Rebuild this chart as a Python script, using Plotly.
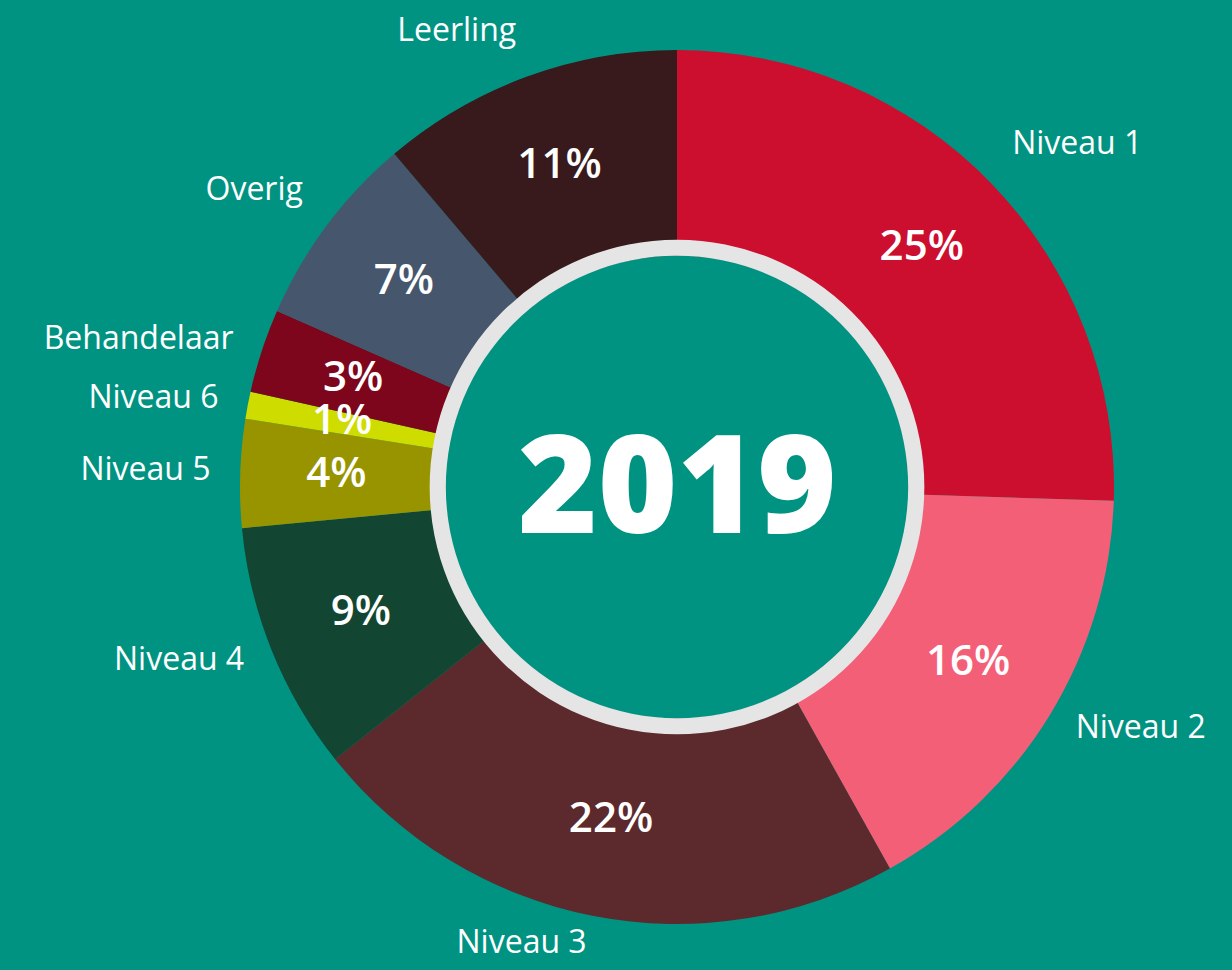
import numpy as np
import plotly.graph_objects as go

# ---------------- data ----------------
categories = ["Niveau 1", "Niveau 2", "Niveau 3", "Niveau 4", "Niveau 5",
              "Niveau 6", "Behandelaar", "Overig", "Leerling"]
shares = [25.5, 16.4, 22.4, 9.2, 4.0, 1.0, 3.1, 7.2, 11.2]
pct_labels = ["25%", "16%", "22%", "9%", "4%", "1%", "3%", "7%", "11%"]
center_label = "2019"

# ---------------- style ----------------
BG = "#009382"
RING = "#E5E5E5"
slice_colors = ["#CC0F2F", "#F45F78", "#5C2A2D", "#134632", "#989400",
                "#CFDC00", "#7D061D", "#46566C", "#381A1C"]
label_textpos = ["top right", "middle right", "middle left", "middle left",
                 "middle left", "middle left", "middle left", "top left", "top left"]
FONT = "Open Sans"

W, H = 1232, 970
CX, CY = 677, 487          # donut centre in px (from top-left)
R_OUT = 437                # outer radius px
R_MAX = 1.1                # radial axis max (outer ring = 1)
HOLE = 0.53                # inner edge of slices (under the grey ring)
RING_IN, RING_OUT = 0.529, 0.566
R_PCT = 0.78
R_LAB = 1.068

# ---------------- geometry from data ----------------
vals = np.array(shares, dtype=float)
span = vals / vals.sum() * 360.0
mid = np.cumsum(span) - span / 2.0

rpx = R_OUT * R_MAX
dom_x = [(CX - rpx) / W, (CX + rpx) / W]
dom_y = [(H - CY - rpx) / H, (H - CY + rpx) / H]

fig = go.Figure()

fig.add_trace(go.Barpolar(
    theta=mid, width=span, r=[1 - HOLE] * len(vals), base=HOLE,
    marker=dict(color=slice_colors, line=dict(width=0)),
    hoverinfo="skip", name="",
))

fig.add_trace(go.Barpolar(
    theta=[0], width=[360], r=[RING_OUT - RING_IN], base=RING_IN,
    marker=dict(color=RING, line=dict(width=0)),
    hoverinfo="skip", name="",
))

fig.add_trace(go.Scatterpolar(
    theta=mid, r=[R_PCT] * len(vals), mode="text", text=pct_labels,
    textposition="middle center",
    textfont=dict(family=FONT, size=42, color="white", weight=600),
    hoverinfo="skip", cliponaxis=False,
))

fig.add_trace(go.Scatterpolar(
    theta=mid, r=[R_LAB] * len(vals), mode="text", text=categories,
    textposition=label_textpos,
    textfont=dict(family=FONT, size=32, color="white", weight=400),
    hoverinfo="skip", cliponaxis=False,
))

fig.add_annotation(
    x=sum(dom_x) / 2, y=sum(dom_y) / 2, xref="paper", yref="paper",
    text=center_label, showarrow=False, xanchor="center", yanchor="middle",
    yshift=7,
    font=dict(family=FONT, size=136, color="white", weight=800),
)

fig.update_layout(
    width=W, height=H,
    margin=dict(l=0, r=0, t=0, b=0, pad=0),
    paper_bgcolor=BG, plot_bgcolor=BG,
    showlegend=False,
    polar=dict(
        domain=dict(x=dom_x, y=dom_y),
        bgcolor="rgba(0,0,0,0)",
        hole=0,
        radialaxis=dict(range=[0, R_MAX], visible=False),
        angularaxis=dict(rotation=90, direction="clockwise", visible=False),
    ),
)

fig.write_html(
    "out.html",
    config={"displayModeBar": False},
    post_script="document.body.style.margin='0';document.body.style.overflow='hidden';",
)
